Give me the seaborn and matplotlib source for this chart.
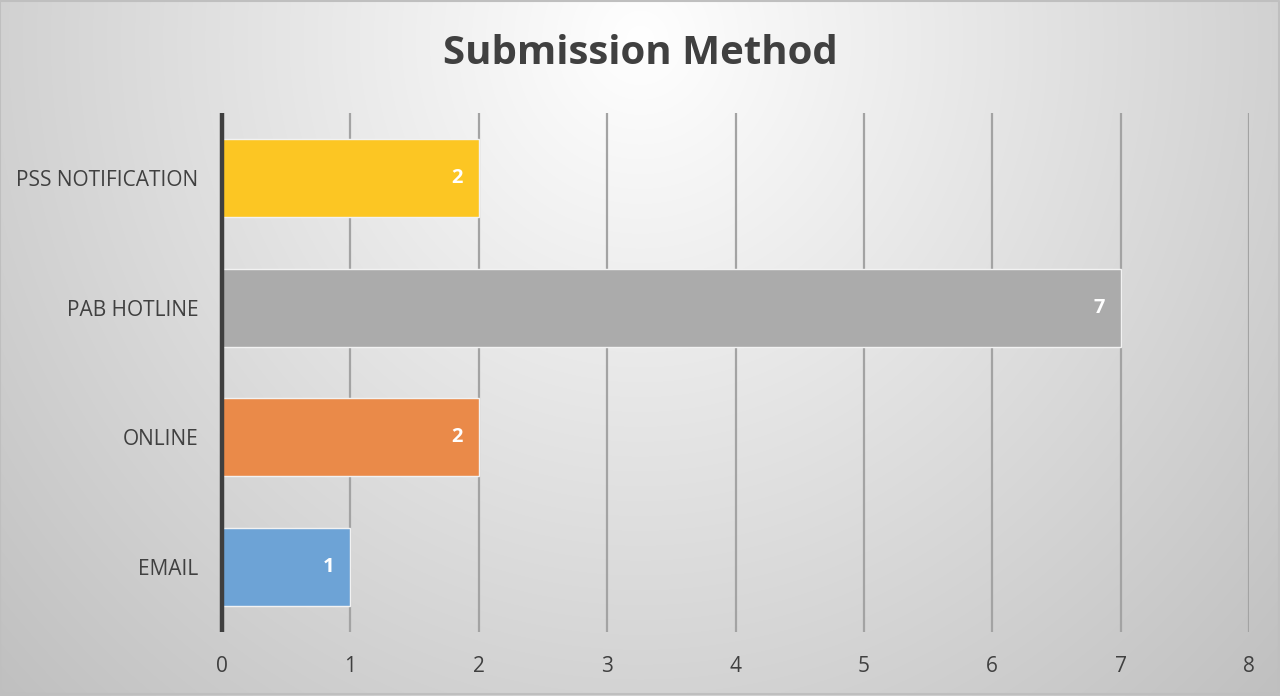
import numpy as np
import pandas as pd
import matplotlib
matplotlib.use("Agg")
import matplotlib.pyplot as plt
import seaborn as sns

categories = ["PSS NOTIFICATION", "PAB HOTLINE", "ONLINE", "EMAIL"]
values = [2, 7, 2, 1]
colors = ["#FCC623", "#ABABAB", "#EA8A49", "#6DA3D6"]
x_ticks = [0, 1, 2, 3, 4, 5, 6, 7, 8]
title = "Submission Method"

sns.set_theme(style="white")
plt.rcParams["font.family"] = ["Open Sans", "DejaVu Sans"]

df = pd.DataFrame({"method": categories, "count": values})

W, H = 1280, 696
fig = plt.figure(figsize=(W / 100, H / 100), dpi=100)

# background radial gradient
bg = fig.add_axes([0, 0, 1, 1], zorder=-10)
yy, xx = np.mgrid[0:H, 0:W]
d = np.sqrt(((xx - 640) / 680.0) ** 2 + ((yy - 40) / 720.0) ** 2)
g = np.clip(1.0 - 0.19 * d, 0, 1)
img = np.dstack([g, g, g])
bg.imshow(img, aspect="auto", extent=[0, W, H, 0])
bg.plot([0, W - 1, W - 1, 0, 0], [1, 1, H - 2, H - 2, 1], color="#BFBFBF", lw=1.5)
bg.set_xlim(0, W)
bg.set_ylim(H, 0)
bg.axis("off")

ax = fig.add_axes([222 / W, 1 - 632 / H, (1249 - 222) / W, (632 - 113) / H])
ax.patch.set_alpha(0)
sns.barplot(data=df, y="method", x="count", hue="method", order=categories,
            hue_order=categories, palette=colors, saturation=1, orient="h",
            width=0.6, dodge=False, legend=False, ax=ax, edgecolor="#F2F2F2",
            linewidth=1.0, zorder=3)

ax.set_xlim(0, 8)
ax.set_ylim(3.5, -0.5)
ax.set_xticks(x_ticks)
ax.set_xticklabels([str(t) for t in x_ticks])
for t in x_ticks[1:]:
    ax.axvline(t, color="#A3A3A3", lw=1.6, zorder=1, solid_capstyle="butt")
ax.axvline(0, color="#3F3F3F", lw=3.2, zorder=5, clip_on=False,
           solid_capstyle="butt")
for s in ax.spines.values():
    s.set_visible(False)
ax.set_xlabel("")
ax.set_ylabel("")
ax.tick_params(axis="x", length=0, pad=17, labelsize=15, labelcolor="#404040")
ax.tick_params(axis="y", length=0, pad=17, labelsize=15, labelcolor="#404040")

for i, v in enumerate(values):
    ax.text(v - 0.17, i, str(v), ha="center", va="center", color="white",
            fontsize=14.5, fontweight="bold", zorder=6)

fig.text(0.5, 1 - 54 / H, title, ha="center", va="center", fontsize=29,
         fontweight="bold", color="#404040")

fig.savefig("out.png", dpi=100)
